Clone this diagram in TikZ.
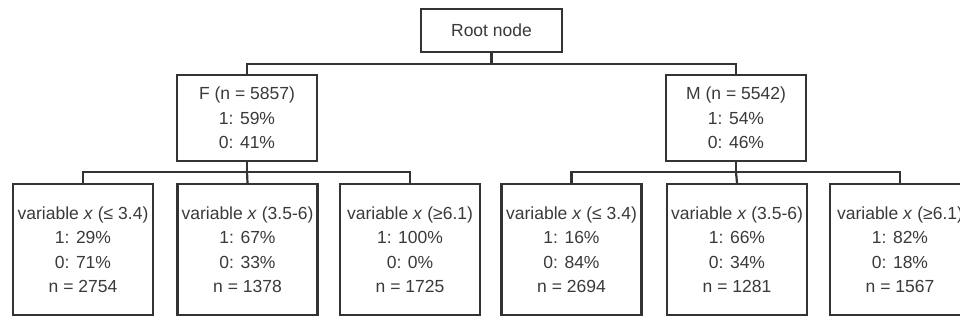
\documentclass[tikz,border=0pt]{standalone}
\usepackage{fontspec}
\setmainfont{Liberation Sans}
\usepackage{xcolor}
\usepackage{tikz}
\usetikzlibrary{positioning,calc}

\definecolor{linegray}{HTML}{333333}
\definecolor{textgray}{HTML}{3A3A3A}

\tikzset{
  treebox/.style={draw=linegray, line width=2.2pt, fill=white, text=textgray,
    align=center, inner sep=2pt,
    font=\fontsize{17.5}{24.5}\selectfont},
  rootbox/.style={treebox, minimum width=141pt, minimum height=43pt},
  splitbox/.style={treebox, minimum width=140pt, minimum height=86pt},
  leafbox/.style={treebox, minimum width=140pt, minimum height=131pt},
  wire/.style={draw=linegray, line width=2.2pt}
}

\begin{document}
\begin{tikzpicture}[x=1pt, y=-1pt]
  \clip (0,0) rectangle (960,320);
  \fill[white] (0,0) rectangle (960,320);

  % Root
  \node[rootbox] (root) at (491.5,30.5) {Root node};

  % First split
  \node[splitbox] (f) at (247,118) {F (n = 5857)\\1: 59\%\\0: 41\%};
  \node[splitbox] (m) at (736,118) {M (n = 5542)\\1: 54\%\\0: 46\%};

  % Leaves under F
  \node[leafbox] (fa) at (83,249.5) {variable \textit{x} (≤ 3.4)\\1: 29\%\\0: 71\%\\n = 2754};
  \node[leafbox] (fb) at (247.5,249.5) {variable \textit{x} (3.5-6)\\1: 67\%\\0: 33\%\\n = 1378};
  \node[leafbox] (fc) at (410,249.5) {variable \textit{x} (≥6.1)\\1: 100\%\\0: 0\%\\n = 1725};

  % Leaves under M
  \node[leafbox] (ma) at (571.5,249.5) {variable \textit{x} (≤ 3.4)\\1: 16\%\\0: 84\%\\n = 2694};
  \node[leafbox] (mb) at (737,249.5) {variable \textit{x} (3.5-6)\\1: 66\%\\0: 34\%\\n = 1281};
  \node[leafbox] (mc) at (900,249.5) {variable \textit{x} (≥6.1)\\1: 82\%\\0: 18\%\\n = 1567};

  % Connectors
  \draw[wire] (root.south) -- ++(0,11) coordinate (topbus);
  \draw[wire] (f.north) |- (topbus) -| (m.north);

  \draw[wire] (f.south) -- ++(0,10) coordinate (fbus);
  \draw[wire] (fa.north) |- (fbus) -| (fc.north);
  \draw[wire] (fbus) -- (fb.north);

  \draw[wire] (m.south) -- ++(0,10) coordinate (mbus);
  \draw[wire] (ma.north) |- (mbus) -| (mc.north);
  \draw[wire] (mbus) -- (mb.north);
\end{tikzpicture}
\end{document}
